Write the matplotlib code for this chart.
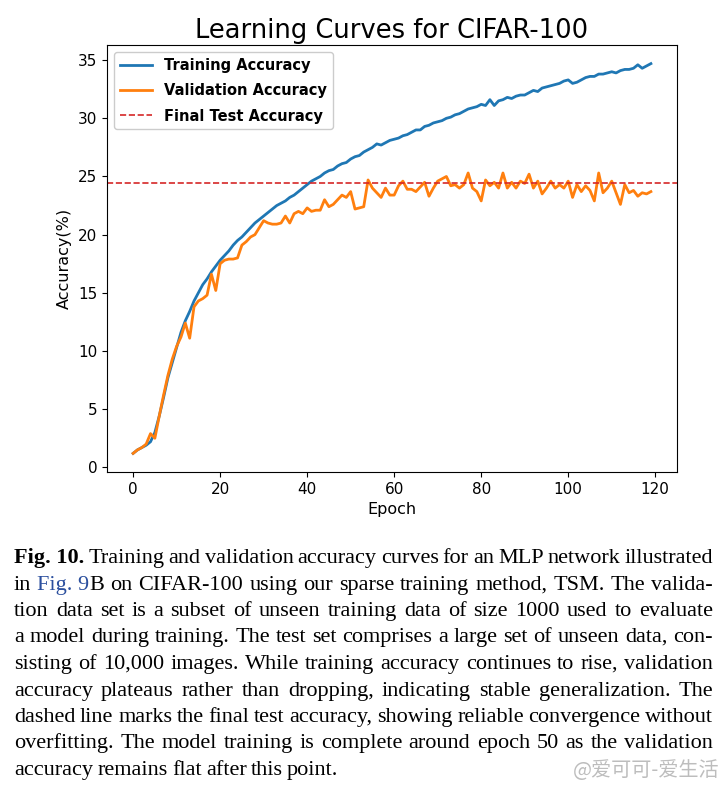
import matplotlib
matplotlib.use("Agg")
import matplotlib.pyplot as plt
import numpy as np

epochs = list(range(120))
train_acc = [1.2, 1.5, 1.7, 1.9, 2.2, 3.0, 4.4, 6.0, 7.7, 9.0,
             10.3, 11.6, 12.6, 13.4, 14.3, 15.0, 15.7, 16.2, 16.8, 17.3,
             17.8, 18.2, 18.6, 19.1, 19.5, 19.8, 20.2, 20.6, 21.0, 21.3,
             21.6, 21.9, 22.2, 22.5, 22.7, 22.9, 23.2, 23.4, 23.7, 24.0,
             24.3, 24.6, 24.8, 25.0, 25.3, 25.5, 25.6, 25.9, 26.1, 26.2,
             26.5, 26.7, 26.8, 27.1, 27.3, 27.5, 27.8, 27.7, 27.9, 28.1,
             28.2, 28.3, 28.5, 28.6, 28.8, 29.0, 29.0, 29.3, 29.4, 29.6,
             29.7, 29.8, 30.0, 30.1, 30.3, 30.4, 30.6, 30.8, 30.9, 31.0,
             31.2, 31.1, 31.6, 31.1, 31.5, 31.6, 31.8, 31.7, 31.9, 32.0,
             32.0, 32.2, 32.4, 32.3, 32.6, 32.7, 32.8, 32.9, 33.0, 33.2,
             33.3, 33.0, 33.1, 33.3, 33.5, 33.6, 33.6, 33.8, 33.8, 33.9,
             34.0, 33.9, 34.1, 34.2, 34.2, 34.3, 34.6, 34.3, 34.5, 34.7]
val_acc = [1.2, 1.5, 1.7, 2.0, 2.9, 2.5, 4.4, 6.2, 7.9, 9.3,
           10.4, 11.2, 12.4, 11.1, 13.8, 14.3, 14.5, 14.8, 16.6, 15.2,
           17.5, 17.8, 17.9, 17.9, 18.0, 19.1, 19.4, 19.8, 20.0, 20.6,
           21.2, 21.0, 20.9, 20.9, 21.0, 21.6, 21.0, 21.8, 22.0, 21.8,
           22.3, 22.0, 22.1, 22.1, 23.0, 22.4, 22.6, 23.0, 23.4, 23.2,
           23.7, 22.2, 22.3, 22.4, 24.7, 24.0, 23.6, 23.2, 24.0, 23.4,
           23.4, 24.2, 24.6, 23.9, 23.9, 23.7, 24.1, 24.5, 23.3, 24.0,
           24.6, 24.8, 25.0, 24.2, 24.3, 24.0, 24.3, 25.3, 24.0, 23.7,
           22.9, 24.7, 24.2, 24.5, 24.0, 25.3, 24.0, 24.5, 24.0, 24.6,
           24.4, 25.2, 24.0, 24.6, 23.5, 24.0, 24.6, 24.0, 24.3, 24.0,
           24.6, 23.2, 24.3, 23.7, 24.2, 23.8, 22.9, 25.3, 23.6, 24.0,
           24.6, 23.6, 22.6, 24.3, 23.6, 23.8, 23.3, 23.6, 23.5, 23.7]
final_test_acc = 24.4

title = "Learning Curves for CIFAR-100"
x_label = "Epoch"
y_label = "Accuracy(%)"
legend_labels = ["Training Accuracy", "Validation Accuracy", "Final Test Accuracy"]

caption_lines = [
    [[("Fig. 10.", "bold")], "Training", "and", "validation", "accuracy", "curves", "for", "an", "MLP", "network", "illustrated"],
    ["in", [("Fig. 9", "link"), ("B", "normal")], "on", "CIFAR-100", "using", "our", "sparse", "training", "method,", "TSM.", "The", "valida-"],
    ["tion", "data", "set", "is", "a", "subset", "of", "unseen", "training", "data", "of", "size", "1000", "used", "to", "evaluate"],
    ["a", "model", "during", "training.", "The", "test", "set", "comprises", "a", "large", "set", "of", "unseen", "data,", "con-"],
    ["sisting", "of", "10,000", "images.", "While", "training", "accuracy", "continues", "to", "rise,", "validation"],
    ["accuracy", "plateaus", "rather", "than", "dropping,", "indicating", "stable", "generalization.", "The"],
    ["dashed", "line", "marks", "the", "final", "test", "accuracy,", "showing", "reliable", "convergence", "without"],
    ["overfitting.", "The", "model", "training", "is", "complete", "around", "epoch", "50", "as", "the", "validation"],
    ["accuracy", "remains", "flat", "after", "this", "point."],
]
watermark = "@爱可可-爱生活"

W, H = 727, 792
fig = plt.figure(figsize=(W / 100, H / 100), dpi=100)
ax = fig.add_axes([107 / W, 1 - 472 / H, (677 - 107) / W, (472 - 45) / H])

ax.plot(epochs, train_acc, color="#1f77b4", lw=2, label=legend_labels[0])
ax.plot(epochs, val_acc, color="#ff7f0e", lw=2, label=legend_labels[1])
ax.axhline(final_test_acc, color="#d62728", ls="--", lw=1.2, label=legend_labels[2])

ax.set_xlim(-6, 125)
ax.set_ylim(-0.4, 36.3)
ax.set_xticks([0, 20, 40, 60, 80, 100, 120])
ax.set_yticks([0, 5, 10, 15, 20, 25, 30, 35])
ax.tick_params(labelsize=11)
ax.set_title(title, fontsize=18.5, pad=5)
ax.set_xlabel(x_label, fontsize=11.5, labelpad=4)
ax.set_ylabel(y_label, fontsize=11.5, labelpad=4)
leg = ax.legend(loc="upper left", prop={"size": 10.5, "weight": "bold"},
                handlelength=2.2, borderaxespad=0.5, framealpha=1.0,
                labelspacing=0.7)

# Caption with justified lines (one text per word)
renderer = fig.canvas.get_renderer()
serif = ["Liberation Serif", "DejaVu Serif"]
fs = 16.0
left_px, right_px = 14, 713
line_y0 = 563
line_step = 26.5
styles = {
    "bold": dict(fontweight="bold", color="black"),
    "normal": dict(fontweight="normal", color="black"),
    "link": dict(fontweight="normal", color="#2b4f9e"),
}


def make_word(w):
    segs = [(w, "normal")] if isinstance(w, str) else w
    arts = []
    for txt, st in segs:
        t = fig.text(0, 0, txt, fontsize=fs, family=serif, va="baseline", ha="left", **styles[st])
        arts.append(t)
    widths = [a.get_window_extent(renderer).width for a in arts]
    return arts, widths


for i, line in enumerate(caption_lines):
    ypx = round(line_y0 + i * line_step)
    y = 1 - ypx / H
    words = [make_word(w) for w in line]
    total = sum(sum(ws) for _, ws in words)
    last = i == len(caption_lines) - 1
    if last or len(words) < 2:
        gap = 4.3
    else:
        gap = (right_px - left_px - total) / (len(words) - 1)
    x = left_px
    for arts, ws in words:
        for a, wd in zip(arts, ws):
            a.set_position((x / W, y))
            x += wd
        x += gap

fig.text(720 / W, 1 - 771 / H, watermark, fontsize=14.5, family=["Noto Sans CJK SC", "DejaVu Sans"],
         color="#bdbdbd", ha="right", va="center")

fig.savefig("out.png", dpi=100)
